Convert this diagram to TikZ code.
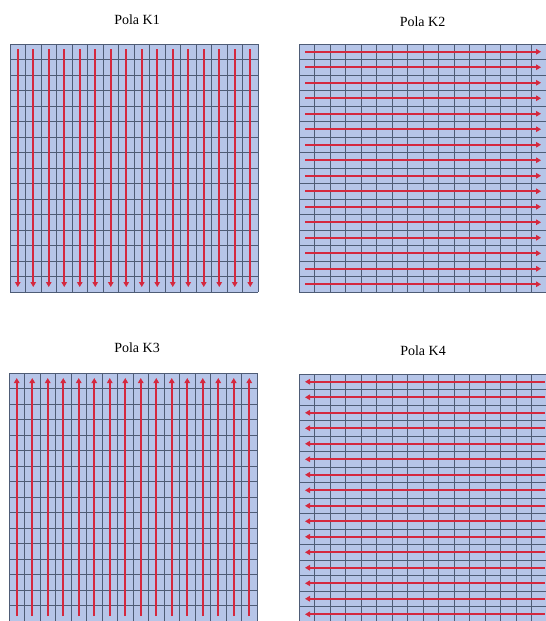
\documentclass[tikz,border=0pt]{standalone}
\usepackage{fontspec}
\setmainfont{Liberation Serif}
\usetikzlibrary{arrows.meta}
\definecolor{cellfill}{RGB}{182,197,232}
\definecolor{gridc}{RGB}{78,92,118}
\definecolor{arrowc}{RGB}{212,40,62}
\begin{document}
\begin{tikzpicture}[x=1pt,y=-1pt,
  gridline/.style={draw=gridc,line width=0.8pt},
  flow/.style={draw=arrowc,line width=2.1pt,-{Triangle[length=5pt,width=5.5pt]}},
  title/.style={font=\fontsize{14}{16}\selectfont,inner sep=0pt},
  field/.pic={
    \fill[cellfill] (0,0) rectangle (248,248);
    \foreach \i in {0,...,16} {
      \draw[gridline] (\i*15.5,0) -- (\i*15.5,248);
      \draw[gridline] (0,\i*15.5) -- (248,\i*15.5);
    }
  }]
\useasboundingbox (0,0) rectangle (546,621);
\clip (0,0) rectangle (546,621);
\fill[white] (0,0) rectangle (546,621);

% titles
\node[title] (t1) at (137,19.5) {Pola K1};
\node[title] (t2) at (422.5,21.5) {Pola K2};
\node[title] (t3) at (137,348) {Pola K3};
\node[title] (t4) at (423,350.5) {Pola K4};

% fields
\pic at (10,44) {field};
\pic at (299,44) {field};
\pic at (9,373) {field};
\pic at (299,374) {field};

% K1 down
\foreach \i in {0,...,15}
  \draw[flow] (17.75+\i*15.5,49) -- (17.75+\i*15.5,287);
% K2 right
\foreach \i in {0,...,15}
  \draw[flow] (305,51.75+\i*15.5) -- (541,51.75+\i*15.5);
% K3 up
\foreach \i in {0,...,15}
  \draw[flow] (16.75+\i*15.5,616) -- (16.75+\i*15.5,378);
% K4 left
\foreach \i in {0,...,15}
  \draw[flow] (545,381.75+\i*15.5) -- (305,381.75+\i*15.5);
\end{tikzpicture}
\end{document}
